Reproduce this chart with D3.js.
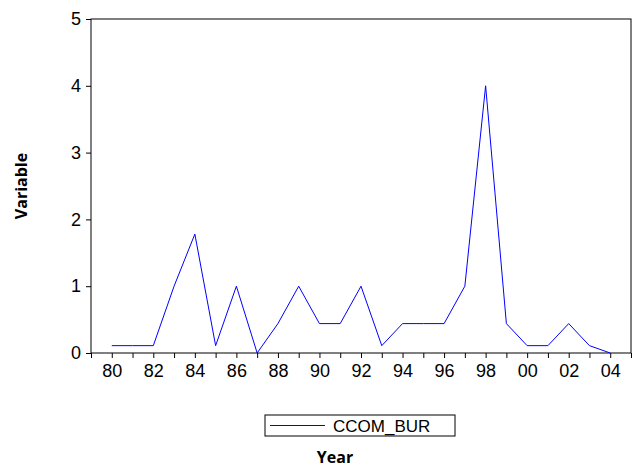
<!DOCTYPE html>
<html>
<head>
<meta charset="utf-8">
<script src="https://d3js.org/d3.v7.min.js"></script>
<style>body{margin:0;background:#fff}</style>
</head>
<body>
<svg id="chart" width="640" height="468"></svg>
<script>
// data
const years = [80,81,82,83,84,85,86,87,88,89,90,91,92,93,94,95,96,97,98,99,100,101,102,103,104];
const ccomBur = [0.11,0.11,0.11,1.0,1.78,0.11,1.0,0,0.44,1.0,0.44,0.44,1.0,0.11,0.44,0.44,0.44,1.0,4.0,0.44,0.11,0.11,0.44,0.11,0];
const yTicks = [0,1,2,3,4,5];

const svg = d3.select("#chart");
const pLeft = 91, pRight = 631, pTop = 19, pBottom = 353;

const x = d3.scaleLinear().domain([79,105]).range([pLeft,pRight]);
const y = d3.scaleLinear().domain([0,5]).range([pBottom,pTop]);

svg.append("rect").attr("x",pLeft).attr("y",pTop)
  .attr("width",pRight-pLeft).attr("height",pBottom-pTop)
  .attr("fill","none").attr("stroke","#000").attr("stroke-width",1);

// y axis
const ya = svg.append("g").attr("transform","translate("+pLeft+",0)")
  .call(d3.axisLeft(y).tickValues(yTicks).tickSize(5).tickPadding(5).tickFormat(d3.format("d")));
ya.select(".domain").remove();
ya.selectAll("text").attr("font-family","Liberation Sans, Arial").attr("font-size",18).attr("fill","#000");

// x axis
const xa = svg.append("g").attr("transform","translate(0,"+pBottom+")")
  .call(d3.axisBottom(x).tickValues(d3.range(79,106)).tickSize(5).tickPadding(6)
    .tickFormat(d => (d >= 80 && d <= 104 && d % 2 === 0) ? String(d % 100).padStart(2,"0") : ""));
xa.select(".domain").remove();
xa.selectAll("text").attr("font-family","Liberation Sans, Arial").attr("font-size",18).attr("fill","#000");

svg.append("path").datum(ccomBur)
  .attr("fill","none").attr("stroke","#0000ff").attr("stroke-width",1)
  .attr("d", d3.line().x((d,i)=>x(years[i])).y(d=>y(d)));

// legend
svg.append("rect").attr("x",265).attr("y",415).attr("width",190).attr("height",21)
  .attr("fill","none").attr("stroke","#000");
svg.append("line").attr("x1",270).attr("x2",325).attr("y1",425.5).attr("y2",425.5)
  .attr("stroke","#0000ff");
svg.append("text").attr("x",333).attr("y",432).text("CCOM_BUR")
  .attr("font-family","Liberation Sans, Arial").attr("font-size",17);

svg.append("text").attr("x",335).attr("y",463).attr("text-anchor","middle")
  .attr("font-family","Open Sans, Arial").attr("font-weight","bold").attr("font-size",16).text("Year");
svg.append("text").attr("transform","translate(27,186) rotate(-90)").attr("text-anchor","middle")
  .attr("font-family","Open Sans, Arial").attr("font-weight","bold").attr("font-size",16).text("Variable");
</script>
</body>
</html>
